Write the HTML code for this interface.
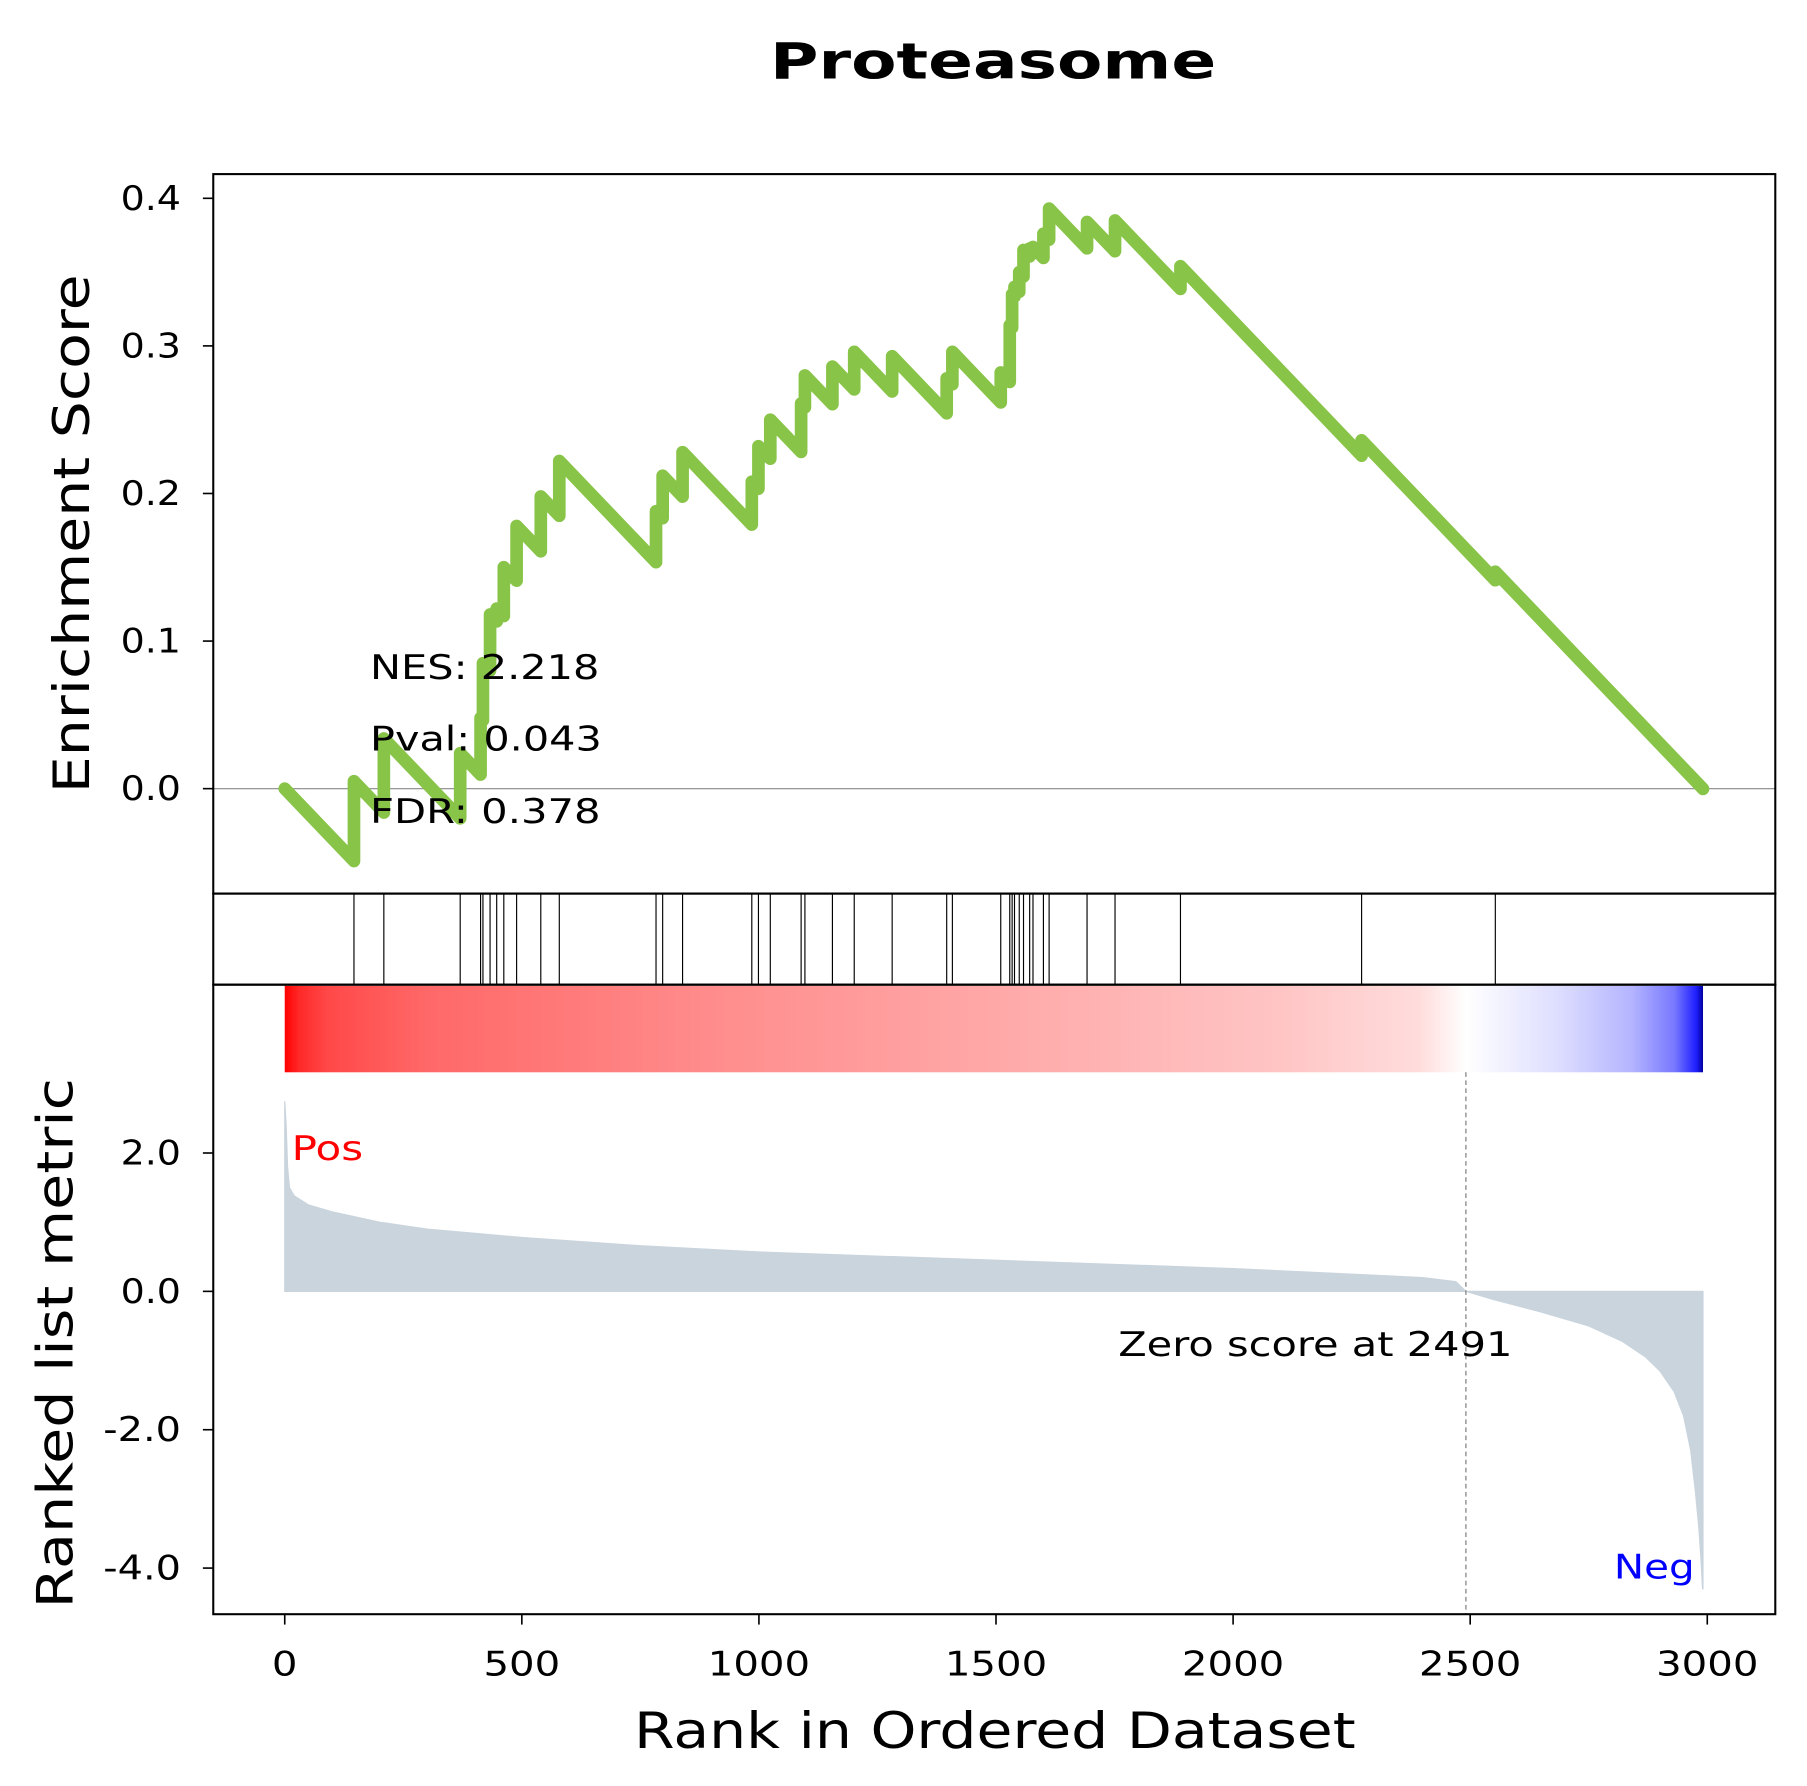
<!DOCTYPE html>
<html><head><meta charset="utf-8"><style>
html,body{margin:0;padding:0;background:#fff}
svg{display:block;font-family:"DejaVu Sans","Liberation Sans",sans-serif}
</style></head><body>
<svg id="chart" width="1807" height="1786" viewBox="0 0 1567.5 1549" preserveAspectRatio="none" xmlns="http://www.w3.org/2000/svg">
<defs>
<linearGradient id="cbar" x1="0" x2="1" y1="0" y2="0">
<stop offset="0" stop-color="#ff0000"/><stop offset="0.01" stop-color="#ff2828"/><stop offset="0.03" stop-color="#ff4848"/>
<stop offset="0.1" stop-color="#ff6868"/><stop offset="0.3" stop-color="#ff8c8c"/><stop offset="0.5" stop-color="#ffa8a8"/>
<stop offset="0.7" stop-color="#ffc4c4"/><stop offset="0.8" stop-color="#ffdcdc"/><stop offset="0.833" stop-color="#ffffff"/>
<stop offset="0.9" stop-color="#dcdcff"/><stop offset="0.95" stop-color="#b4b4ff"/><stop offset="0.98" stop-color="#7878ff"/>
<stop offset="0.995" stop-color="#2020ff"/><stop offset="1" stop-color="#0000a0"/>
</linearGradient>
</defs>
<text x="668" y="68" font-size="43" font-weight="bold" textLength="387" lengthAdjust="spacingAndGlyphs">Proteasome</text>
<g id="g"></g>
</svg>
<script>
const hitRanks=[146,209,370,413,418,433,447,462,489,540,579,783,797,839,985,999,1024,1089,1097,1155,1201,1281,1396,1408,1510,1529,1534,1539,1549,1558,1571,1578,1600,1612,1692,1751,1889,2271,2553];
const esAfter=[0.005,0.034,0.024,0.048,0.085,0.118,0.122,0.150,0.178,0.198,0.222,0.188,0.212,0.228,0.208,0.232,0.250,0.261,0.280,0.286,0.296,0.293,0.278,0.296,0.282,0.314,0.335,0.340,0.350,0.365,0.366,0.367,0.376,0.393,0.384,0.385,0.354,0.236,0.147];
const missSlope=0.000336;
const nGenes=2991;
const metricRanks=[0,3,6,10,20,50,100,200,300,500,750,1000,1500,2000,2400,2470,2491,2550,2650,2750,2820,2870,2900,2930,2950,2965,2975,2982,2987,2990];
const metricVals=[2.75,2.4,1.8,1.5,1.38,1.25,1.15,1.0,0.9,0.78,0.66,0.57,0.45,0.33,0.2,0.14,0,-0.12,-0.3,-0.5,-0.72,-0.95,-1.15,-1.45,-1.8,-2.3,-2.9,-3.4,-3.9,-4.3];
const xTicks=[0,500,1000,1500,2000,2500,3000];
const esTicks=[0.0,0.1,0.2,0.3,0.4];
const mTicks=[2,0,-2,-4];
const mTickLabels=["2.0","0.0","-2.0","-4.0"];
const zeroRank=2491;

const X=r=>247+r*0.41133;
const YE=v=>684-v*1280;
const YM=v=>1120-v*60;
const g=document.getElementById('g');
const NS='http://www.w3.org/2000/svg';
function mk(t,a,txt){const e=document.createElementNS(NS,t);for(const k in a)e.setAttribute(k,a[k]);if(txt!==undefined)e.textContent=txt;g.appendChild(e);return e;}
function tw(s){let w=0;for(const c of s)w+=(c==='.'?8:(c==='-'?15:22.2));return w;}

let e=mk('line',{x1:185,x2:1540,y1:YE(0),y2:YE(0),stroke:'#888','stroke-width':1});



let pts=[[0,0]];let cur=0,prev=0;
hitRanks.forEach((r,i)=>{const before=cur-missSlope*(r-prev);pts.push([r,before]);pts.push([r,esAfter[i]]);cur=esAfter[i];prev=r;});
pts.push([nGenes,cur-missSlope*(nGenes-prev)]);
e=mk('polyline',{points:pts.map(p=>X(p[0])+','+YE(p[1])).join(' '),fill:'none',stroke:'#88c447','stroke-width':11,'stroke-linejoin':'round','stroke-linecap':'round'});



hitRanks.forEach(r=>{const l=mk('line',{x1:X(r),x2:X(r),y1:775,y2:854,stroke:'#000','stroke-width':1});

});

e=mk('rect',{x:X(0),y:855,width:X(nGenes)-X(0),height:75,fill:'url(#cbar)'});



let ap=[[0,0]].concat(metricRanks.map((r,i)=>[r,metricVals[i]])).concat([[nGenes,metricVals[metricVals.length-1]],[nGenes,0]]);
e=mk('polygon',{points:ap.map(p=>X(p[0])+','+YM(p[1])).join(' '),fill:'#c9d4dd',stroke:'#c9d4dd','stroke-width':1});



e=mk('line',{x1:X(zeroRank),x2:X(zeroRank),y1:930,y2:1400,stroke:'#777','stroke-width':1,'stroke-dasharray':'4,3'});



[[185,151,1355,624,'es-axes-frame'],[185,775,1355,79,'hits-axes-frame'],[185,854,1355,546,'metric-axes-frame']].forEach(f=>{
const r=mk('rect',{x:f[0],y:f[1],width:f[2],height:f[3],fill:'none',stroke:'#000','stroke-width':1.8});

});

esTicks.forEach(v=>{mk('line',{x1:176,x2:185,y1:YE(v),y2:YE(v),stroke:'#000','stroke-width':1.4});
const s=v.toFixed(1);
const t=mk('text',{x:157,y:YE(v)+10,'text-anchor':'end','font-size':29,textLength:tw(s),lengthAdjust:'spacingAndGlyphs'},s);

});
mTicks.forEach((v,i)=>{mk('line',{x1:176,x2:185,y1:YM(v),y2:YM(v),stroke:'#000','stroke-width':1.4});
const s=mTickLabels[i];
const t=mk('text',{x:157,y:YM(v)+10,'text-anchor':'end','font-size':29,textLength:tw(s),lengthAdjust:'spacingAndGlyphs'},s);

});
xTicks.forEach(v=>{mk('line',{x1:X(v),x2:X(v),y1:1400,y2:1409,stroke:'#000','stroke-width':1.4});
const s=String(v);
const t=mk('text',{x:X(v),y:1453,'text-anchor':'middle','font-size':29,textLength:tw(s),lengthAdjust:'spacingAndGlyphs'},s);

});

const labs=[
['x-axis-title',550,1516,'Rank in Ordered Dataset',{'font-size':43,textLength:626}],
['es-axis-title',0,0,'Enrichment Score',{'font-size':43,'text-anchor':'middle',textLength:450,transform:'translate(77,463) rotate(-90)'}],
['metric-axis-title',0,0,'Ranked list metric',{'font-size':43,'text-anchor':'middle',textLength:460,transform:'translate(63,1165) rotate(-90)'}],
['nes-label',321,589,'NES: 2.218',{'font-size':29,textLength:199}],
['pval-label',321,651,'Pval: 0.043',{'font-size':29,textLength:201}],
['fdr-label',321,714,'FDR: 0.378',{'font-size':29,textLength:200}],
['zero-score-label',970,1176,'Zero score at 2491',{'font-size':29,textLength:342}],
['pos-label',253,1006,'Pos',{'font-size':29,fill:'#ff0000',textLength:62}],
['neg-label',1400,1369,'Neg',{'font-size':29,fill:'#0000ff',textLength:70}]];
labs.forEach(l=>{const a=Object.assign({x:l[1],y:l[2],lengthAdjust:'spacingAndGlyphs'},l[4]);const t=mk('text',a,l[3]);

});
</script>
</body></html>
